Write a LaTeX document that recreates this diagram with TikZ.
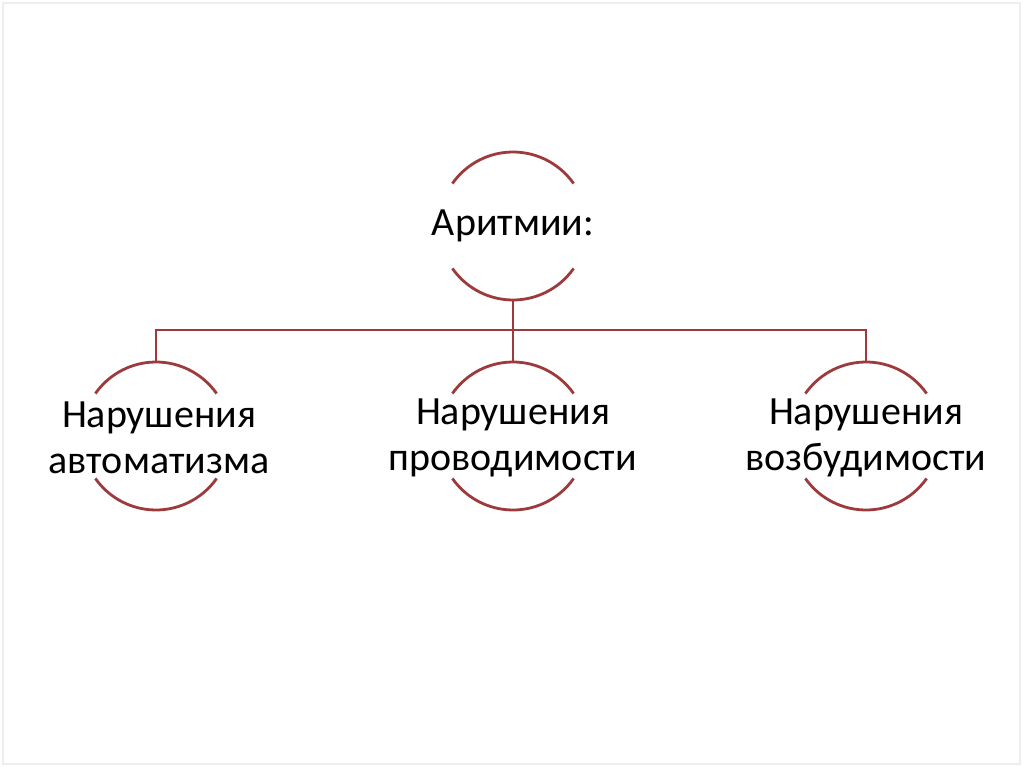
\documentclass[tikz,border=0pt]{standalone}
\usepackage{fontspec}
\setmainfont{Carlito}
\definecolor{branchred}{HTML}{9C3A3C}
\definecolor{framegray}{HTML}{EEEEEE}

\begin{document}
\begin{tikzpicture}[x=1pt,y=1pt,
  ring/.style={circle,minimum size=148pt,inner sep=0pt,outer sep=0pt},
  txt/.style={align=center,font=\fontsize{40}{46}\selectfont,inner sep=0pt},
  rim/.style={draw=branchred,line width=2.8pt},
  link/.style={draw=branchred,line width=2.8pt}
]
\useasboundingbox (0,0) rectangle (1024,-767);
\draw[framegray,line width=1.5pt] (3,-3) rectangle (1020,-764);
% circles
\node[ring] (root) at (513,-226) {};
\node[ring] (autom) at (156,-436) {};
\node[ring] (cond) at (513,-436) {};
\node[ring] (excit) at (866,-436) {};
\foreach \n in {root,autom,cond,excit}{
  \draw[rim] (\n.35) arc[start angle=35,end angle=145,radius=74];
  \draw[rim] (\n.-35) arc[start angle=-35,end angle=-145,radius=74];
}
% labels
\node[txt] (rootlbl) at (root) {Аритмии:};
\node[txt] (automlbl) at ([xshift=3pt,yshift=-2pt]autom) {Нарушения\\автоматизма};
\node[txt] (condlbl) at ([yshift=-2pt]cond) {Нарушения\\проводимости};
\node[txt] (excitlbl) at ([yshift=-2pt]excit) {Нарушения\\возбудимости};
% connectors
\draw[link] (root.south) -- ++(0,-30) -| (autom.north);
\draw[link] (root.south) -- ++(0,-30) -| (excit.north);
\draw[link] (root.south) -- (cond.north);
\end{tikzpicture}
\end{document}
